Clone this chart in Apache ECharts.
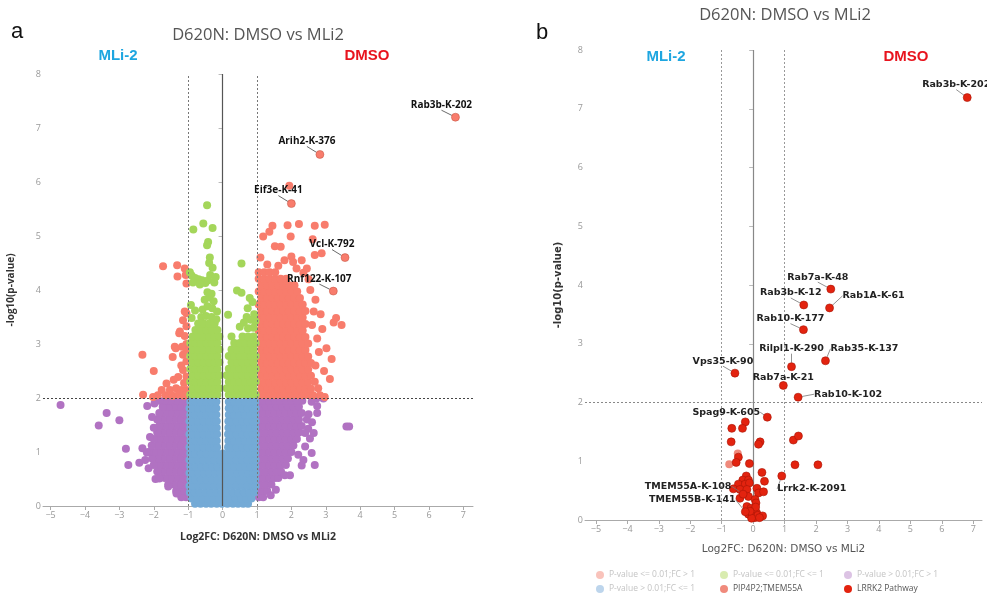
<!DOCTYPE html>
<html>
<head>
<meta charset="utf-8">
<script src="https://cdn.jsdelivr.net/npm/echarts@6/dist/echarts.min.js"></script>
<style>
  html, body { margin: 0; padding: 0; background: #fff; }
  #chart { width: 987px; height: 600px; }
</style>
</head>
<body>
<div id="chart"></div>
<script>
// ---- Axis ticks ----
const xTicks = [-5, -4, -3, -2, -1, 0, 1, 2, 3, 4, 5, 6, 7];
const yTicks = [0, 1, 2, 3, 4, 5, 6, 7, 8];

// ---- Category names ----
const catUpSig = 'P-value <= 0.01;FC > 1';
const catSmallSig = 'P-value <= 0.01;FC <= 1';
const catUpNs = 'P-value > 0.01;FC > 1';
const catSmallNs = 'P-value > 0.01;FC <= 1';
const catPip = 'PIP4P2;TMEM55A';
const catLrrk = 'LRRK2 Pathway';

// ---- Panel a: dense point clouds, written as [y, [x, x, ...]] rows ----
const blueRows = [
  [0.04, [-0.8, -0.64, -0.48, -0.33, -0.17, -0.02, 0.14, 0.3, 0.45, 0.6, 0.74]],
  [0.14, [-0.9, -0.74, -0.58, -0.42, -0.26, -0.1, 0.06, 0.22, 0.38, 0.54, 0.69, 0.84]],
  [0.25, [-0.95, -0.81, -0.66, -0.5, -0.34, -0.18, -0.02, 0.14, 0.3, 0.46, 0.62, 0.77, 0.92]],
  [0.37, [-0.96, -0.87, -0.71, -0.55, -0.39, -0.23, -0.07, 0.09, 0.25, 0.41, 0.57, 0.73, 0.88, 0.96]],
  [0.49, [-0.94, -0.79, -0.63, -0.47, -0.31, -0.15, 0.01, 0.17, 0.33, 0.49, 0.65, 0.81, 0.95]],
  [0.61, [-0.96, -0.86, -0.7, -0.54, -0.38, -0.22, -0.06, 0.1, 0.26, 0.42, 0.58, 0.74, 0.89, 0.96]],
  [0.73, [-0.94, -0.78, -0.62, -0.46, -0.3, -0.14, 0.02, 0.18, 0.34, 0.5, 0.66, 0.82, 0.95]],
  [0.85, [-0.96, -0.87, -0.71, -0.55, -0.39, -0.23, -0.07, 0.09, 0.25, 0.41, 0.57, 0.73, 0.88, 0.96]],
  [0.97, [-0.94, -0.79, -0.63, -0.47, -0.31, -0.15, 0.01, 0.17, 0.33, 0.49, 0.65, 0.81, 0.95]],
  [1.09, [-0.96, -0.87, -0.71, -0.55, -0.39, -0.24, -0.16, 0.16, 0.25, 0.41, 0.57, 0.73, 0.88, 0.96]],
  [1.21, [-0.94, -0.79, -0.63, -0.47, -0.31, -0.17, 0.17, 0.33, 0.49, 0.65, 0.81, 0.95]],
  [1.33, [-0.96, -0.87, -0.71, -0.55, -0.39, -0.24, -0.16, 0.16, 0.25, 0.41, 0.57, 0.73, 0.88, 0.96]],
  [1.45, [-0.94, -0.79, -0.63, -0.47, -0.31, -0.17, 0.17, 0.33, 0.49, 0.65, 0.81, 0.95]],
  [1.57, [-0.96, -0.87, -0.71, -0.55, -0.39, -0.24, -0.17, 0.17, 0.25, 0.41, 0.57, 0.73, 0.88, 0.96]],
  [1.69, [-0.94, -0.79, -0.63, -0.47, -0.31, -0.18, 0.18, 0.33, 0.49, 0.65, 0.81, 0.95]],
  [1.81, [-0.96, -0.87, -0.71, -0.55, -0.39, -0.25, -0.18, 0.18, 0.25, 0.41, 0.57, 0.73, 0.88, 0.96]],
  [1.93, [-0.94, -0.79, -0.63, -0.47, -0.31, -0.18, 0.18, 0.33, 0.49, 0.65, 0.81, 0.95]]
];

const greenRows = [
  [2.06, [-0.94, -0.79, -0.63, -0.47, -0.31, -0.15, 0.18, 0.34, 0.5, 0.66, 0.82, 0.96]],
  [2.18, [-0.87, -0.71, -0.55, -0.39, -0.23, -0.09, 0.12, 0.26, 0.42, 0.58, 0.74, 0.9]],
  [2.30, [-0.94, -0.79, -0.63, -0.47, -0.31, -0.15, 0.18, 0.34, 0.5, 0.66, 0.82, 0.96]],
  [2.42, [-0.87, -0.71, -0.55, -0.39, -0.23, -0.09, 0.12, 0.26, 0.42, 0.58, 0.74, 0.9]],
  [2.54, [-0.94, -0.79, -0.63, -0.47, -0.31, -0.15, 0.18, 0.34, 0.5, 0.66, 0.82, 0.96]],
  [2.66, [-0.87, -0.71, -0.55, -0.39, -0.23, -0.09, 0.26, 0.42, 0.58, 0.74, 0.9]],
  [2.78, [-0.94, -0.79, -0.63, -0.47, -0.31, -0.15, 0.18, 0.34, 0.5, 0.66, 0.82, 0.96]],
  [2.90, [-0.87, -0.71, -0.55, -0.39, -0.23, -0.09, 0.26, 0.42, 0.58, 0.74, 0.9]],
  [3.02, [-0.94, -0.79, -0.63, -0.47, -0.31, -0.15, 0.34, 0.5, 0.66, 0.82, 0.96]],
  [3.14, [-0.87, -0.71, -0.55, -0.39, -0.23, -0.09, 0.26, 0.58, 0.74, 0.9]],
  [3.26, [-0.79, -0.63, -0.47, -0.31, -0.15]],
  [3.38, [-0.71, -0.55, -0.39, -0.23]]
];
const greenExtra = [
  [-0.9, 3.48], [-0.62, 3.5], [-0.48, 3.52], [-0.32, 3.5], [-0.18, 3.46], [-0.58, 3.64], [-0.44, 3.7],
  [-0.3, 3.66], [-0.16, 3.6], [-0.52, 3.82], [-0.38, 3.86], [-0.26, 3.79], [-0.44, 3.96], [-0.32, 3.93],
  [-0.92, 3.72], [-0.8, 3.62], [-0.95, 4.33], [-0.9, 4.27], [-0.8, 4.22], [-0.7, 4.2], [-0.6, 4.18],
  [-0.5, 4.13], [-0.42, 4.18], [-0.36, 4.28], [-0.29, 4.41], [-0.24, 4.14], [-0.86, 4.14], [-0.66, 4.1],
  [-0.2, 4.24], [-0.37, 4.6], [-0.39, 4.5], [-0.42, 4.89], [-0.45, 4.83], [-0.29, 5.15], [-0.56, 5.23],
  [-0.85, 5.12], [-0.45, 5.57],
  [0.55, 4.49], [0.42, 3.99], [0.55, 3.95], [0.16, 3.54], [0.79, 3.85], [0.87, 3.78], [0.73, 3.66],
  [0.7, 3.5], [0.82, 3.45], [0.92, 3.55], [0.5, 3.32], [0.74, 3.29], [0.9, 3.3], [0.62, 3.4], [0.95, 3.42]
];

const salmonRows = [
  [2.05, [1.05, 1.21, 1.37, 1.53, 1.69, 1.85, 2.01, 2.17, 2.33, 2.49, 2.63]],
  [2.17, [1.13, 1.29, 1.45, 1.61, 1.77, 1.93, 2.09, 2.25, 2.41, 2.57]],
  [2.29, [1.05, 1.21, 1.37, 1.53, 1.69, 1.85, 2.01, 2.17, 2.33, 2.49]],
  [2.41, [1.13, 1.29, 1.45, 1.61, 1.77, 1.93, 2.09, 2.25, 2.41, 2.57]],
  [2.53, [1.05, 1.21, 1.37, 1.53, 1.69, 1.85, 2.01, 2.17, 2.33, 2.49]],
  [2.65, [1.13, 1.29, 1.45, 1.61, 1.77, 1.93, 2.09, 2.25, 2.41, 2.57]],
  [2.77, [1.05, 1.21, 1.37, 1.53, 1.69, 1.85, 2.01, 2.17, 2.33, 2.49]],
  [2.89, [1.13, 1.29, 1.45, 1.61, 1.77, 1.93, 2.09, 2.25, 2.41]],
  [3.01, [1.05, 1.21, 1.37, 1.53, 1.69, 1.85, 2.01, 2.17, 2.33, 2.49]],
  [3.13, [1.13, 1.29, 1.45, 1.61, 1.77, 1.93, 2.09, 2.25, 2.41]],
  [3.25, [1.05, 1.21, 1.37, 1.53, 1.69, 1.85, 2.01, 2.17, 2.33]],
  [3.37, [1.13, 1.29, 1.45, 1.61, 1.77, 1.93, 2.09, 2.25, 2.41]],
  [3.49, [1.05, 1.21, 1.37, 1.53, 1.69, 1.85, 2.01, 2.17, 2.33]],
  [3.61, [1.13, 1.29, 1.45, 1.61, 1.77, 1.93, 2.09, 2.25, 2.41]],
  [3.73, [1.05, 1.21, 1.37, 1.53, 1.69, 1.85, 2.01, 2.17, 2.33]],
  [3.85, [1.13, 1.29, 1.45, 1.61, 1.77, 1.93, 2.09, 2.25]],
  [3.97, [1.05, 1.21, 1.37, 1.53, 1.69, 1.85, 2.01, 2.17]],
  [4.09, [1.13, 1.29, 1.45, 1.61, 1.77, 1.93, 2.09]],
  [4.21, [1.05, 1.21, 1.37, 1.53, 1.69, 1.85]],
  [4.33, [1.05, 1.21, 1.37, 1.53]]
];
const salmonExtra = [
  [2.83, 2.05], [2.97, 2.02], [3.12, 2.35], [3.17, 2.72], [3.02, 2.92], [3.23, 3.4], [3.46, 3.35],
  [3.3, 3.48], [2.75, 3.1], [2.9, 3.28], [2.7, 2.6], [2.8, 2.85], [2.65, 3.6], [2.85, 3.55], [2.7, 3.82],
  [2.68, 2.3], [2.78, 2.18], [2.55, 4.0], [2.5, 4.2], [2.35, 4.32], [2.6, 3.35], [2.95, 2.5],
  [1.45, 5.19], [1.89, 5.2], [2.22, 5.22], [2.68, 5.19], [2.97, 5.21], [1.36, 5.08], [1.18, 4.99],
  [1.98, 4.99], [1.52, 4.81], [1.69, 4.8], [2.62, 4.94], [2.68, 4.65], [2.88, 4.68], [1.8, 4.55],
  [2.05, 4.52], [2.3, 4.55], [2.45, 4.4], [1.94, 5.93], [1.1, 4.6], [1.3, 4.47], [1.62, 4.45],
  [2.15, 4.4], [2.0, 4.62],
  [-1.73, 4.44], [-1.32, 4.46], [-1.1, 4.4], [-1.31, 4.25], [-1.07, 4.28], [-1.05, 4.12], [-1.05, 3.57],
  [-1.15, 3.44], [-1.05, 3.33], [-1.26, 3.2], [-1.1, 3.15], [-1.05, 3.0], [-1.36, 2.92], [-1.15, 2.8],
  [-2.33, 2.8], [-1.45, 2.76], [-2.0, 2.5], [-1.2, 2.6], [-1.05, 2.68], [-1.15, 2.52], [-1.29, 2.39],
  [-1.42, 2.34], [-1.63, 2.27], [-1.05, 2.4], [-1.12, 2.28], [-1.77, 2.15], [-1.53, 2.15], [-1.35, 2.18],
  [-1.2, 2.15], [-1.05, 2.15], [-2.31, 2.06], [-2.02, 2.02], [-1.88, 2.05], [-1.65, 2.05], [-1.45, 2.04],
  [-1.28, 2.06], [-1.12, 2.04], [-1.24, 3.23], [-1.1, 3.6], [-1.39, 2.95], [-1.05, 2.88], [-1.18, 2.95]
];

const purpleRows = [
  [0.16, [-1.06, -1.2, 1.05, 1.18]],
  [0.28, [-1.05, -1.2, -1.35, 1.05, 1.2, 1.3]],
  [0.40, [-1.1, -1.26, -1.42, -1.58, 1.1, 1.26, 1.42]],
  [0.52, [-1.04, -1.2, -1.36, -1.52, -1.68, -1.84, 1.04, 1.2, 1.36, 1.52, 1.62]],
  [0.64, [-1.1, -1.26, -1.42, -1.58, -1.74, -1.9, 1.1, 1.26, 1.42, 1.58, 1.7]],
  [0.76, [-1.04, -1.2, -1.36, -1.52, -1.68, -1.84, -2.0, 1.04, 1.2, 1.36, 1.52, 1.68, 1.84]],
  [0.88, [-1.1, -1.26, -1.42, -1.58, -1.74, -1.9, -2.05, 1.1, 1.26, 1.42, 1.58, 1.74, 1.9]],
  [1.00, [-1.04, -1.2, -1.36, -1.52, -1.68, -1.84, -2.0, -2.15, 1.04, 1.2, 1.36, 1.52, 1.68, 1.84, 2.0]],
  [1.12, [-1.1, -1.26, -1.42, -1.58, -1.74, -1.9, -2.06, 1.1, 1.26, 1.42, 1.58, 1.74, 1.9, 2.06]],
  [1.24, [-1.04, -1.2, -1.36, -1.52, -1.68, -1.84, -2.0, 1.04, 1.2, 1.36, 1.52, 1.68, 1.84, 2.0, 2.16]],
  [1.36, [-1.1, -1.26, -1.42, -1.58, -1.74, -1.9, 1.1, 1.26, 1.42, 1.58, 1.74, 1.9, 2.06, 2.22]],
  [1.48, [-1.04, -1.2, -1.36, -1.52, -1.68, -1.84, 1.04, 1.2, 1.36, 1.52, 1.68, 1.84, 2.0, 2.16, 2.3]],
  [1.60, [-1.1, -1.26, -1.42, -1.58, -1.74, -1.9, 1.1, 1.26, 1.42, 1.58, 1.74, 1.9, 2.06, 2.22]],
  [1.72, [-1.04, -1.2, -1.36, -1.52, -1.68, -1.84, 1.04, 1.2, 1.36, 1.52, 1.68, 1.84, 2.0, 2.16, 2.3]],
  [1.84, [-1.1, -1.26, -1.42, -1.58, -1.74, 1.1, 1.26, 1.42, 1.58, 1.74, 1.9, 2.06, 2.22]],
  [1.95, [-1.04, -1.2, -1.36, -1.52, -1.68, -1.84, 1.04, 1.2, 1.36, 1.52, 1.68, 1.84, 2.0, 2.16, 2.32]]
];
const purpleExtra = [
  [-4.71, 1.87], [-3.37, 1.72], [-3.6, 1.49], [-3.0, 1.59], [-2.81, 1.06], [-2.74, 0.76], [-2.42, 0.8],
  [-2.19, 1.85], [-2.11, 1.28], [-2.33, 1.07], [-2.2, 0.99], [-2.25, 0.85], [-2.15, 0.7], [-1.95, 0.5],
  [-1.84, 0.51], [-1.58, 0.36], [-1.34, 0.23], [-2.0, 1.45], [-2.05, 1.65], [-1.98, 1.9],
  [2.59, 1.93], [2.73, 1.99], [2.93, 1.99], [2.75, 1.85], [2.75, 1.72], [2.6, 1.55], [2.54, 1.25],
  [2.49, 1.43], [2.4, 1.35], [2.59, 0.98], [2.68, 0.76], [2.35, 0.85], [2.2, 0.95], [1.96, 0.57],
  [1.81, 0.57], [3.6, 1.47], [3.68, 1.47], [2.45, 1.6], [2.4, 1.1], [2.3, 0.75], [1.55, 0.3], [1.4, 0.2],
  [2.5, 1.7], [2.65, 1.35]
];

// Named sites in panel a
const namedA = [
  { name: 'Rab3b-K-202', value: [6.77, 7.2] },
  { name: 'Arih2-K-376', value: [2.83, 6.51] },
  { name: 'Eif3e-K-41', value: [2.0, 5.6] },
  { name: 'Vcl-K-792', value: [3.56, 4.6] },
  { name: 'Rnf122-K-107', value: [3.22, 3.98] }
];

// ---- Panel b: LRRK2 pathway sites ----
const namedB = [
  { name: 'Rab3b-K-202', value: [6.81, 7.19] },
  { name: 'Rab7a-K-48', value: [2.47, 3.93] },
  { name: 'Rab3b-K-12', value: [1.61, 3.66] },
  { name: 'Rab1A-K-61', value: [2.43, 3.61] },
  { name: 'Rab10-K-177', value: [1.6, 3.24] },
  { name: 'Rilpl1-K-290', value: [1.22, 2.61] },
  { name: 'Rab35-K-137', value: [2.3, 2.71] },
  { name: 'Vps35-K-90', value: [-0.58, 2.5] },
  { name: 'Rab7a-K-21', value: [0.96, 2.29] },
  { name: 'Rab10-K-102', value: [1.43, 2.09] },
  { name: 'Spag9-K-605', value: [0.45, 1.75] },
  { name: 'Lrrk2-K-2091', value: [0.91, 0.75] },
  { name: 'TMEM55A-K-108', value: [-0.32, 0.44] },
  { name: 'TMEM55B-K-141', value: [-0.25, 0.14] }
];
const lrrkOther = [
  [-0.25, 1.67], [-0.68, 1.56], [-0.34, 1.56], [-0.7, 1.33], [0.22, 1.33], [0.17, 1.29], [-0.47, 1.07],
  [-0.54, 0.98], [-0.12, 0.96], [0.28, 0.81], [0.36, 0.66], [1.28, 1.36], [1.44, 1.43], [1.33, 0.94],
  [2.06, 0.94], [-0.22, 0.75], [-0.33, 0.68], [-0.15, 0.68], [-0.47, 0.61], [-0.25, 0.61], [-0.12, 0.63],
  [-0.63, 0.53], [-0.42, 0.52], [-0.2, 0.52], [0.12, 0.54], [0.17, 0.46], [0.33, 0.48], [-0.15, 0.4],
  [-0.42, 0.37], [0.06, 0.35], [0.09, 0.29], [-0.2, 0.23], [-0.07, 0.2], [0.06, 0.17], [0.11, 0.12],
  [-0.15, 0.1], [0.0, 0.07], [0.05, 0.04], [0.15, 0.08], [0.3, 0.07], [-0.05, 0.03], [0.2, 0.04],
  [0.08, 0.22], [-0.1, 0.15]
];
const pipPoints = [[-0.49, 1.13], [-0.76, 0.95]];

// ---- Label placement (pixel offsets of each label from its point) ----
const offsetsA = [[-14, -12], [-13, -13], [-13, -13], [-13, -13], [-14, -12]];
const offsetsB = [
  [-11, -13], [-13, -12], [-13, -12], [44, -12], [-13, -11], [0, -18], [39, -12],
  [-12, -12], [0, -8], [50, -3], [-41, -5], [30, 13], [-55, -8], [-53, -12]
];

function fromRows(rows) {
  const out = [];
  rows.forEach(function (r) { r[1].forEach(function (x) { out.push([x, r[0]]); }); });
  return out;
}

const COLORS = {
  salmon: '#f87c6c',
  green: '#a4d65a',
  purple: '#b172c2',
  blue: '#74aad6',
  lrrk: '#e3230f',
  pip: '#f08a7c'
};

const minus = function (v) { return v < 0 ? '\u2212' + Math.abs(v) : String(v); };

function xAxisCfg(grid, min, max, gap, bold) {
  return {
    gridIndex: grid, type: 'value', min: min, max: max,
    axisLine: { show: true, onZero: false, lineStyle: { color: '#aaa', width: 1 } },
    axisTick: { show: true, customValues: xTicks, length: 4, lineStyle: { color: '#aaa' } },
    axisLabel: { customValues: xTicks, formatter: minus, fontSize: 9, color: '#999', margin: 5, fontFamily: 'Open Sans' },
    splitLine: { show: false },
    name: 'Log2FC: D620N: DMSO vs MLi2', nameLocation: 'middle', nameGap: gap,
    nameTextStyle: { fontWeight: bold ? 'bold' : 'normal', fontSize: 10.5, color: bold ? '#333' : '#555', fontFamily: bold ? 'Open Sans' : 'DejaVu Sans' }
  };
}
function yAxisCfg(grid, gap, font) {
  return {
    gridIndex: grid, type: 'value', min: 0, max: 8, interval: 1,
    axisLine: { show: false },
    axisTick: { show: true, length: 4, lineStyle: { color: '#bbb' } },
    axisLabel: { fontSize: 9, color: '#999', margin: 2, fontFamily: 'Open Sans' },
    splitLine: { show: false },
    name: '-log10(p-value)', nameLocation: 'middle', nameGap: gap,
    nameTextStyle: { fontWeight: 'bold', fontSize: 10, color: '#333', fontFamily: font }
  };
}

function dotted(color) { return { color: color, width: 1, type: [2, 2] }; }

function guides(axisIdx, zeroColor, dotColor, hColor) {
  return [
    {
      type: 'line', xAxisIndex: axisIdx, yAxisIndex: axisIdx, data: [], z: 1, silent: true,
      markLine: {
        symbol: 'none', silent: true, label: { show: false },
        lineStyle: { color: zeroColor, width: 1.2, type: 'solid' },
        data: [[{ coord: [0, 0] }, { coord: [0, 8] }]]
      }
    },
    {
      type: 'line', xAxisIndex: axisIdx, yAxisIndex: axisIdx, data: [], z: 10, silent: true,
      markLine: {
        symbol: 'none', silent: true, label: { show: false },
        data: [
          [{ coord: [-1, 0], lineStyle: dotted(dotColor) }, { coord: [-1, 8] }],
          [{ coord: [1, 0], lineStyle: dotted(dotColor) }, { coord: [1, 8] }],
          { yAxis: 2, lineStyle: dotted(hColor) }
        ]
      }
    }
  ];
}

function cloud(name, data, color, z) {
  return {
    type: 'scatter', name: name, xAxisIndex: 0, yAxisIndex: 0, data: data,
    symbolSize: 8, itemStyle: { color: color, opacity: 1 }, z: z, silent: true, animation: false
  };
}

const chart = echarts.init(document.getElementById('chart'), null, { renderer: 'canvas' });

const txt = function (x, y, text, font, fill) {
  return {
    type: 'text', x: x, y: y, silent: true,
    style: { text: text, font: font, fill: fill, textAlign: 'center', textVerticalAlign: 'middle', align: 'center', verticalAlign: 'middle' }
  };
};

const legendBase = {
  orient: 'vertical', itemGap: 4, itemWidth: 8, itemHeight: 8, icon: 'circle',
  selectedMode: false, padding: 0, top: 570,
  textStyle: { fontSize: 8.5, fontFamily: 'Open Sans', color: '#bbb', lineHeight: 10 }
};
const legendItem = function (name, color, textColor) {
  return { name: name, itemStyle: { color: color, borderWidth: 0, opacity: 1 }, textStyle: { color: textColor } };
};

const option = {
  backgroundColor: '#fff',
  animation: false,
  grid: [
    { left: 43, top: 74, width: 430, height: 432 },
    { left: 585, top: 50, width: 397, height: 470 }
  ],
  xAxis: [xAxisCfg(0, -5.22, 7.28, 26, true), xAxisCfg(1, -5.35, 7.28, 24, false)],
  yAxis: [yAxisCfg(0, 27, 'Open Sans'), yAxisCfg(1, 22, 'DejaVu Sans')],
  legend: [
    Object.assign({}, legendBase, { left: 596, data: [legendItem(catUpSig, '#f9c3bb', '#c4c4c4'), legendItem(catSmallNs, '#bdd5ec', '#c4c4c4')] }),
    Object.assign({}, legendBase, { left: 720, data: [legendItem(catSmallSig, '#d9ecb0', '#c4c4c4'), legendItem(catPip, COLORS.pip, '#555')] }),
    Object.assign({}, legendBase, { left: 844, data: [legendItem(catUpNs, '#dcc3e4', '#c4c4c4'), legendItem(catLrrk, COLORS.lrrk, '#555')] })
  ],
  graphic: [
    txt(17, 32, 'a', '22px "Liberation Sans"', '#111'),
    txt(542, 33, 'b', '22px "Liberation Sans"', '#111'),
    txt(258, 35, 'D620N: DMSO vs MLi2', '16.5px "Open Sans"', '#555'),
    txt(785, 15, 'D620N: DMSO vs MLi2', '16.5px "Open Sans"', '#555'),
    txt(118, 56, 'MLi-2', 'bold 15px "Liberation Sans"', '#1ea6e0'),
    txt(367, 56, 'DMSO', 'bold 15px "Liberation Sans"', '#e8141e'),
    txt(666, 57, 'MLi-2', 'bold 15px "Liberation Sans"', '#1ea6e0'),
    txt(906, 57, 'DMSO', 'bold 15px "Liberation Sans"', '#e8141e')
  ],
  series: [].concat(
    guides(0, '#555', '#777', '#444'),
    guides(1, '#888', '#999', '#888'),
    [
      cloud(catUpNs, fromRows(purpleRows).concat(purpleExtra), COLORS.purple, 2),
      cloud(catUpSig, fromRows(salmonRows).concat(salmonExtra), COLORS.salmon, 2),
      cloud(catSmallSig, fromRows(greenRows).concat(greenExtra), COLORS.green, 2),
      cloud(catSmallNs, fromRows(blueRows), COLORS.blue, 3),
      {
        type: 'scatter', name: catUpSig, xAxisIndex: 0, yAxisIndex: 0, data: namedA,
        symbolSize: 8, itemStyle: { color: COLORS.salmon, opacity: 1, borderColor: '#c0503f', borderWidth: 0.5 }, z: 5, silent: true,
        label: {
          show: true, position: 'inside', formatter: '{b}',
          fontFamily: 'Open Sans', fontWeight: 'bold', fontSize: 10, color: '#111'
        },
        labelLine: { show: true, lineStyle: { color: '#444', width: 0.8 } },
        labelLayout: function (p) { const o = offsetsA[p.dataIndex]; return { dx: o[0], dy: o[1] }; }
      },
      {
        type: 'scatter', name: catPip, xAxisIndex: 1, yAxisIndex: 1, data: pipPoints,
        symbolSize: 8, itemStyle: { color: COLORS.pip, opacity: 1 }, z: 4, silent: true
      },
      {
        type: 'scatter', name: catLrrk, xAxisIndex: 1, yAxisIndex: 1, data: lrrkOther,
        symbolSize: 8, itemStyle: { color: COLORS.lrrk, opacity: 1, borderColor: '#a81606', borderWidth: 0.6 }, z: 5, silent: true
      },
      {
        type: 'scatter', name: catLrrk, xAxisIndex: 1, yAxisIndex: 1, data: namedB,
        symbolSize: 8, itemStyle: { color: COLORS.lrrk, opacity: 1, borderColor: '#a81606', borderWidth: 0.6 }, z: 6, silent: true,
        label: {
          show: true, position: 'inside', formatter: '{b}',
          fontFamily: 'DejaVu Sans', fontWeight: 'bold', fontSize: 9.5, color: '#222'
        },
        labelLine: { show: true, lineStyle: { color: '#777', width: 0.8 } },
        labelLayout: function (p) { const o = offsetsB[p.dataIndex]; return { dx: o[0], dy: o[1] }; }
      }
    ]
  )
};

chart.setOption(option);
</script>
</body>
</html>
